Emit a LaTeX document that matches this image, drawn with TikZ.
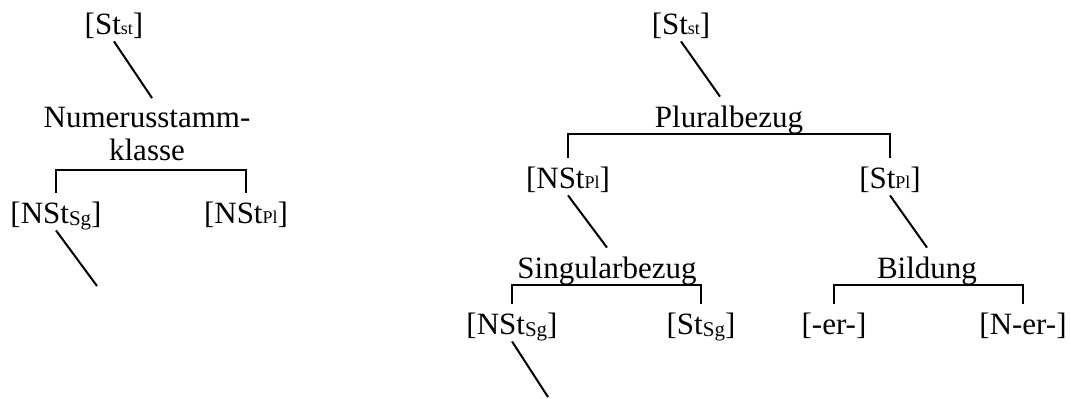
\documentclass[tikz,border=0pt]{standalone}
\usepackage{fontspec}
\setmainfont{Liberation Serif}
\newcommand{\treefont}{\fontsize{15.5}{16.5}\selectfont}
\newcommand{\lowsub}[1]{\raisebox{-1.2pt}{\fontsize{10.5}{10.5}\selectfont #1}}
\newcommand{\smallsub}[1]{{\fontsize{9}{9}\selectfont #1}}
\tikzset{
    lbl/.style={font=\treefont, inner xsep=0pt, inner ysep=1.5pt},
    leaf/.style={lbl, text height=13.5pt, text depth=2pt, anchor=base},
    twoline/.style={lbl, align=center, inner ysep=4.5pt, anchor=north},
    branch/.style={line width=1pt}
}
\begin{document}
\begin{tikzpicture}[x=0.5pt, y=-0.5pt]
    \useasboundingbox (0,0) rectangle (1071,398);

    % Left tree
    \node[leaf] (lst) at (114,34) {[St\smallsub{st}]};
    \node[twoline] (lnk) at (147,98) {Numerusstamm-\\klasse};
    \node[leaf] (lnsg) at (56,223) {[NSt\lowsub{Sg}]};
    \node[leaf] (lnpl) at (246,223) {[NSt\smallsub{Pl}]};
    \coordinate (lend) at (97,286);

    \draw[branch] (lst.south) -- ([xshift=2.5pt]lnk.north);
    \draw[branch] (lnsg.south) -- (lend);

    % Right tree
    \node[leaf] (rst) at (681,34) {[St\smallsub{st}]};
    \node[leaf] (rpl) at (729,127) {Pluralbezug};
    \node[leaf] (rnpl) at (568,188) {[NSt\smallsub{Pl}]};
    \node[leaf] (rspl) at (890,188) {[St\smallsub{Pl}]};
    \node[leaf] (rsgb) at (607,278) {Singularbezug};
    \node[leaf] (rbil) at (927,278) {Bildung};
    \node[leaf] (rnsg) at (512,334) {[NSt\lowsub{Sg}]};
    \node[leaf] (rssg) at (701,334) {[St\lowsub{Sg}]};
    \node[leaf] (rer) at (834,334) {[-er-]};
    \node[leaf] (rner) at (1023,334) {[N-er-]};
    \coordinate (rend) at (548,397);

    \draw[branch] (rst.south) -- ([xshift=-4.5pt]rpl.north);
    \draw[branch] (rnpl.south) -- (rsgb.north);
    \draw[branch] (rspl.south) -- (rbil.north);
    \draw[branch] (rnsg.south) -- (rend);

    % Brackets
    \foreach \a/\p/\b in {lnsg/lnk/lnpl, rnpl/rpl/rspl, rnsg/rsgb/rssg, rer/rbil/rner} {
        \draw[branch] (\a.north) |- (\p.south) -| (\b.north);
    }

\end{tikzpicture}
\end{document}
